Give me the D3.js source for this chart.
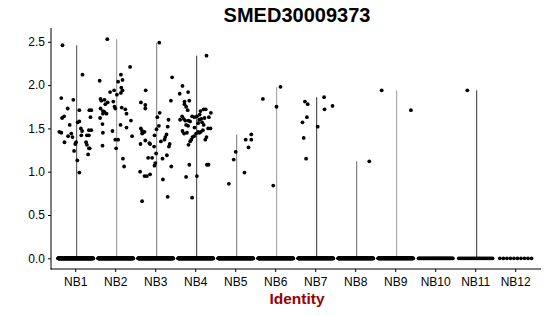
<!DOCTYPE html>
<html>
<head>
<meta charset="utf-8">
<script src="https://cdn.jsdelivr.net/npm/d3@7"></script>
<style>
  body { margin: 0; background: #fff; }
  svg { display: block; font-family: "Liberation Sans", Arial, Helvetica, sans-serif; }
</style>
</head>
<body>
<div id="chart"></div>
<script>
// groupes (identités)
const groups = ["NB1", "NB2", "NB3", "NB4", "NB5", "NB6", "NB7", "NB8", "NB9", "NB10", "NB11", "NB12"];

// nombre de cellules à expression nulle par groupe
const zeroCounts = [300, 280, 280, 260, 250, 240, 220, 220, 180, 45, 24, 10];

// cellules exprimantes : [décalage jitter, valeur]
const nb1Points = [[-0.33,2.46],[0.17,2.12],[-0.36,1.85],[-0.06,1.83],[-0.20,1.73],[0.09,1.71],[0.34,1.71],[0.39,1.71],
  [-0.29,1.64],[-0.34,1.62],[0.37,1.63],[0.05,1.57],[0.09,1.58],[-0.15,1.54],[-0.41,1.46],[-0.36,1.45],[0.13,1.50],
  [0.16,1.47],[0.33,1.48],[0.39,1.48],[-0.11,1.44],[-0.19,1.41],[-0.08,1.40],[0.14,1.42],[0.28,1.42],[0.33,1.42],
  [-0.28,1.34],[0.01,1.34],[-0.01,1.32],[0.26,1.34],[0.28,1.31],[0.33,1.27],[0.35,1.27],[-0.04,1.24],[0.31,1.20],
  [0.04,1.13],[0.09,0.99]];
const nb2Points = [[-0.21,2.53],[0.36,2.21],[0.13,2.12],[0.17,2.06],[0.06,2.04],[-0.40,2.05],[0.14,1.97],[0.17,1.94],
  [-0.14,1.92],[-0.04,1.94],[0.13,1.91],[0.03,1.89],[-0.38,1.84],[-0.36,1.82],[-0.28,1.83],[-0.20,1.80],[-0.26,1.78],
  [-0.06,1.81],[-0.03,1.75],[-0.01,1.73],[0.15,1.74],[0.24,1.72],[-0.38,1.73],[-0.32,1.70],[-0.28,1.69],[-0.32,1.67],
  [-0.23,1.67],[0.27,1.67],[-0.39,1.62],[0.38,1.59],[-0.33,1.55],[0.12,1.54],[0.27,1.51],[-0.08,1.47],[-0.32,1.45],
  [0.41,1.41],[-0.01,1.37],[0.06,1.37],[0.01,1.27],[-0.33,1.30],[0.18,1.15],[0.21,1.06]];
const nb3Points = [[0.09,2.49],[0.41,2.09],[-0.25,1.94],[0.38,1.82],[-0.37,1.80],[-0.26,1.77],[-0.26,1.73],[0.10,1.68],
  [0.04,1.63],[0.32,1.60],[0.08,1.53],[0.30,1.52],[0.02,1.49],[-0.37,1.50],[-0.34,1.47],[-0.32,1.45],[-0.28,1.46],
  [-0.34,1.44],[-0.03,1.42],[0.27,1.43],[0.24,1.40],[-0.26,1.36],[-0.38,1.32],[-0.16,1.33],[-0.14,1.32],[0.13,1.35],
  [0.22,1.37],[-0.04,1.29],[0.35,1.32],[0.33,1.29],[0.01,1.21],[0.28,1.19],[-0.19,1.16],[-0.09,1.16],[0.17,1.15],
  [-0.01,1.10],[-0.03,1.07],[0.39,1.06],[-0.39,1.00],[-0.28,0.95],[-0.22,0.95],[-0.14,0.97],[0.18,0.91],[0.30,0.71],
  [-0.34,0.66]];
const nb4Points = [[0.27,2.34],[-0.33,1.99],[-0.19,1.92],[-0.40,1.90],[-0.28,1.81],[-0.28,1.78],[-0.16,1.82],[-0.24,1.75],
  [-0.20,1.71],[-0.34,1.64],[-0.30,1.61],[-0.26,1.59],[-0.39,1.60],[-0.09,1.64],[-0.03,1.63],[0.03,1.64],[0.12,1.70],
  [0.20,1.72],[0.38,1.68],[0.09,1.60],[0.14,1.61],[0.22,1.62],[-0.18,1.59],[-0.14,1.58],[-0.24,1.54],[-0.19,1.53],
  [0.16,1.57],[0.20,1.54],[0.31,1.50],[0.37,1.50],[-0.33,1.47],[-0.29,1.44],[-0.22,1.45],[0.06,1.46],[0.09,1.45],
  [0.13,1.46],[0.01,1.44],[-0.04,1.41],[-0.08,1.40],[-0.11,1.37],[-0.14,1.35],[-0.18,1.31],[0.27,1.40],[0.24,1.37],
  [-0.16,1.08],[0.28,1.08],[0.32,1.08],[-0.24,0.94],[0.03,0.95],[-0.09,0.70],[0.25,1.72],[0.33,1.63],[0.10,1.66],
  [0.06,1.56],[0.18,1.48],[-0.03,1.51]];
const nb5Points = [[0.39,1.43],[0.25,1.37],[0.39,1.37],[0.32,1.28],[0.00,1.23],[-0.05,1.14],[0.22,0.99],[-0.17,0.86]];
const nb6Points = [[0.12,1.98],[-0.32,1.84],[0.02,1.75],[-0.06,0.84]];
const nb7Points = [[-0.27,1.81],[-0.20,1.78],[0.21,1.86],[0.22,1.72],[0.42,1.76],[-0.22,1.63],[-0.33,1.57],[0.05,1.52],
  [-0.30,1.39],[-0.24,1.15]];
const nb8Points = [[0.34,1.12]];
const nb9Points = [[-0.35,1.94],[0.38,1.71]];
const nb10Points = [];
const nb11Points = [[-0.21,1.94]];
const nb12Points = [];

const expressed = [nb1Points, nb2Points, nb3Points, nb4Points, nb5Points, nb6Points,
                   nb7Points, nb8Points, nb9Points, nb10Points, nb11Points, nb12Points];

// teinte des violons (quasi réduits à un trait)
const violinColors = ["#444", "#8a8a8a", "#777", "#333", "#777", "#999", "#333", "#666", "#999", "#666", "#333", "#666"];

const W = 550, H = 316;
const panel = { left: 51, right: 541, top: 28, bottom: 269 };

const svg = d3.select("#chart").append("svg")
    .attr("width", W)
    .attr("height", H);

// échelles
const x = d3.scaleBand()
    .domain(groups)
    .range([55.7, 535.7]);
const step = x.step();
const cx = g => x(g) + step / 2;

const y = d3.scaleLinear()
    .domain([0, 2.5])
    .range([258.3, 41.8]);

// violons
groups.forEach(function(g, i) {
    const pts = expressed[i];
    if (pts.length === 0) return;
    const vmax = d3.max(pts, d => d[1]);
    svg.append("line")
        .attr("x1", cx(g) + 1).attr("x2", cx(g) + 1)
        .attr("y1", y(0)).attr("y2", y(vmax))
        .attr("stroke", violinColors[i])
        .attr("stroke-width", 1);
});

// points
const dots = svg.append("g").attr("fill", "#000");
groups.forEach(function(g, i) {
    const n = zeroCounts[i];
    for (let k = 0; k < n; k++) {
        const off = -0.44 + 0.88 * (k + 0.5) / n;
        dots.append("circle")
            .attr("cx", cx(g) + off * step)
            .attr("cy", y(0))
            .attr("r", 1.9);
    }
    expressed[i].forEach(function(d) {
        dots.append("circle")
            .attr("cx", cx(g) + d[0] * step)
            .attr("cy", y(d[1]))
            .attr("r", 1.9);
    });
});

// axes
const yAxis = svg.append("g")
    .attr("transform", `translate(${panel.left},0)`)
    .call(d3.axisLeft(y).tickValues([0, 0.5, 1, 1.5, 2, 2.5]).tickFormat(d3.format(".1f")).tickSize(3).tickSizeOuter(0));
yAxis.select(".domain").remove();
yAxis.selectAll("text").attr("font-size", 12).attr("fill", "#000").attr("font-family", "Liberation Sans, Arial, sans-serif");
yAxis.selectAll("line").attr("stroke", "#000");

const xAxis = svg.append("g")
    .attr("transform", `translate(0,${panel.bottom})`)
    .call(d3.axisBottom(x).tickSize(3).tickSizeOuter(0));
xAxis.select(".domain").remove();
xAxis.selectAll("text").attr("font-size", 12).attr("fill", "#000").attr("dy", "0.95em").attr("font-family", "Liberation Sans, Arial, sans-serif");
xAxis.selectAll("line").attr("stroke", "#000");

svg.append("line")
    .attr("x1", panel.left).attr("x2", panel.left)
    .attr("y1", panel.top).attr("y2", panel.bottom + 0.5)
    .attr("stroke", "#000").attr("stroke-width", 1);
svg.append("line")
    .attr("x1", panel.left - 0.5).attr("x2", panel.right)
    .attr("y1", panel.bottom).attr("y2", panel.bottom)
    .attr("stroke", "#000").attr("stroke-width", 1);

// titre
svg.append("text")
    .attr("x", (panel.left + panel.right) / 2 + 1)
    .attr("y", 22)
    .attr("text-anchor", "middle")
    .attr("font-size", 20)
    .attr("font-weight", "bold")
    .text("SMED30009373");

svg.append("text")
    .attr("x", (panel.left + panel.right) / 2 + 1)
    .attr("y", 304)
    .attr("text-anchor", "middle")
    .attr("font-size", 15.5)
    .attr("font-weight", "bold")
    .attr("fill", "#990000")
    .text("Identity");
</script>
</body>
</html>
